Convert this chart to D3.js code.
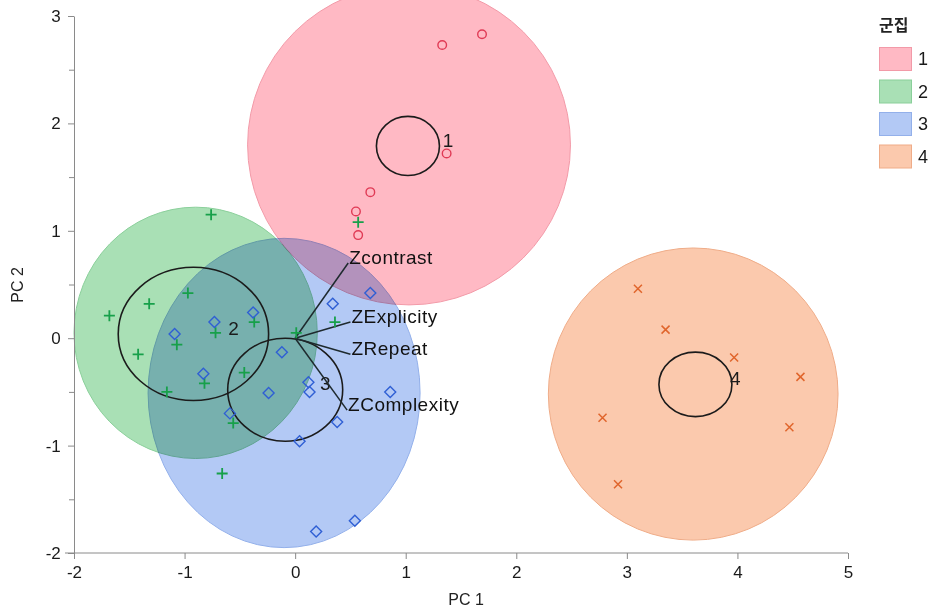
<!DOCTYPE html>
<html lang="ko">
<head>
    <meta charset="UTF-8">
    <title>PCA clusters</title>
    <script src="https://d3js.org/d3.v7.min.js"></script>
    <style>
        body { margin: 0; background: white; }
        svg { display: block; font-family: "Liberation Sans", Arial, sans-serif; }
        .blob { mix-blend-mode: multiply; }
    </style>
</head>
<body>
    <svg></svg>
    <script>
        // Data
        var clusters = ["1", "2", "3", "4"];

        var cluster1Points = [[1.33, 2.73], [1.69, 2.83], [1.37, 1.72], [0.68, 1.36], [0.55, 1.18], [0.57, 0.96]];
        var cluster2Points = [[-0.76, 1.15], [-0.97, 0.42], [-1.32, 0.32], [-1.68, 0.21], [-1.42, -0.15],
            [-1.07, -0.06], [-0.72, 0.05], [-0.37, 0.15], [0.01, 0.05], [0.36, 0.15], [-0.46, -0.32],
            [-0.82, -0.42], [-1.16, -0.50], [-0.56, -0.79], [-0.66, -1.26], [0.57, 1.08]];
        var cluster3Points = [[-0.38, 0.24], [-0.73, 0.15], [-1.09, 0.04], [-0.83, -0.33], [-0.12, -0.13],
            [-0.24, -0.51], [0.12, -0.41], [0.13, -0.50], [-0.59, -0.70], [0.38, -0.78], [0.04, -0.96],
            [0.34, 0.32], [0.68, 0.42], [0.86, -0.50], [0.54, -1.70], [0.19, -1.80]];
        var cluster4Points = [[3.10, 0.46], [3.35, 0.08], [3.97, -0.18], [4.57, -0.36], [2.78, -0.74],
            [4.47, -0.83], [2.92, -1.36]];

        // density ellipses (data units)
        var ellipseCx = [1.03, -0.90, -0.10, 3.60];
        var ellipseCy = [1.80, 0.05, -0.51, -0.52];
        var ellipseRx = [1.46, 1.10, 1.23, 1.31];
        var ellipseRy = [1.49, 1.17, 1.44, 1.36];

        // cluster mean circles (data units)
        var meanCx = [1.02, -0.92, -0.09, 3.62];
        var meanCy = [1.79, 0.04, -0.48, -0.43];
        var meanRx = [0.285, 0.68, 0.52, 0.33];
        var meanRy = [0.275, 0.62, 0.48, 0.30];

        // biplot rays
        var vectorNames = ["Zcontrast", "ZExplicity", "ZRepeat", "ZComplexity"];
        var vectorX = [0.48, 0.50, 0.50, 0.47];
        var vectorY = [0.70, 0.15, -0.15, -0.67];

        var xTicks = [-2, -1, 0, 1, 2, 3, 4, 5];
        var yTicks = [-2, -1, 0, 1, 2, 3];

        var fillColors = ["#ffb9c4", "#a9e0b5", "#b3c9f5", "#fbc9ad"];
        var edgeColors = ["#f29aa8", "#8acf9a", "#93b0ea", "#efac88"];
        var markColors = ["#e03a55", "#17a04a", "#2f5fd4", "#e0652c"];

        var width = 931, height = 608;
        var svg = d3.select("svg").attr("width", width).attr("height", height);
        svg.append("rect").attr("width", width).attr("height", height).attr("fill", "white");

        var x = d3.scaleLinear().domain([-2, 5]).range([74, 848]);
        var y = d3.scaleLinear().domain([-2, 3]).range([553, 16]);

        // filled ellipses
        var blobs = svg.append("g");
        clusters.forEach(function(c, i) {
            blobs.append("ellipse")
                .attr("class", "blob")
                .attr("cx", x(ellipseCx[i]))
                .attr("cy", y(ellipseCy[i]))
                .attr("rx", x(ellipseRx[i]) - x(0))
                .attr("ry", y(0) - y(ellipseRy[i]))
                .attr("fill", fillColors[i])
                .attr("stroke", edgeColors[i])
                .attr("stroke-width", 1);
        });

        // axes
        var axisColor = "#8a8a8a";
        var fmt = d => String(d); // plain hyphen, like the original
        var gx = svg.append("g").attr("transform", "translate(0," + y(-2) + ")")
            .call(d3.axisBottom(x).tickValues(xTicks).tickSize(6).tickSizeOuter(0).tickFormat(fmt));
        var gy = svg.append("g").attr("transform", "translate(" + x(-2) + ",0)")
            .call(d3.axisLeft(y).tickValues(yTicks).tickSize(6).tickSizeOuter(0).tickFormat(fmt));
        svg.append("g").attr("transform", "translate(" + x(-2) + ",0)")
            .call(d3.axisLeft(y).tickValues([-1.5, -0.5, 0.5, 1.5, 2.5]).tickSize(5).tickFormat(""))
            .select(".domain").remove();
        svg.selectAll(".domain, .tick line").attr("stroke", axisColor);
        gx.select(".domain").attr("d", "M" + (x(-2) - 9) + ",0H" + x(5));
        gx.selectAll("text").attr("font-size", 17).attr("fill", "#1a1a1a").attr("dy", "0.95em");
        gy.selectAll("text").attr("font-size", 17).attr("fill", "#1a1a1a").attr("dx", "-0.25em");
        svg.selectAll(".tick text").attr("font-family", "Liberation Sans, Arial, sans-serif");

        svg.append("text").attr("x", 466).attr("y", 605).attr("text-anchor", "middle")
            .attr("font-size", 16).attr("fill", "#222").text("PC 1");
        svg.append("text").attr("transform", "translate(23,285) rotate(-90)").attr("text-anchor", "middle")
            .attr("font-size", 16).attr("fill", "#222").text("PC 2");

        // mean circles and their labels
        clusters.forEach(function(c, i) {
            svg.append("ellipse")
                .attr("cx", x(meanCx[i]))
                .attr("cy", y(meanCy[i]))
                .attr("rx", x(meanRx[i]) - x(0))
                .attr("ry", y(0) - y(meanRy[i]))
                .attr("fill", "none")
                .attr("stroke", "#1b1b1b")
                .attr("stroke-width", 1.6);
            svg.append("text")
                .attr("x", x(meanCx[i]) + 40)
                .attr("y", y(meanCy[i]) - 6)
                .attr("dy", "0.35em")
                .attr("text-anchor", "middle")
                .attr("font-size", 19)
                .attr("fill", "#1b1b1b")
                .text(c);
        });

        // biplot rays
        vectorNames.forEach(function(name, i) {
            svg.append("line")
                .attr("x1", x(0)).attr("y1", y(0))
                .attr("x2", x(vectorX[i])).attr("y2", y(vectorY[i]))
                .attr("stroke", "#1e2a2e")
                .attr("stroke-width", 1.5);
            svg.append("text")
                .attr("x", x(vectorX[i]) + 1)
                .attr("y", y(vectorY[i]) + 1)
                .attr("font-size", 19)
                .attr("letter-spacing", "0.5px")
                .attr("fill", "#111")
                .text(name);
        });

        // point markers
        var g = svg.append("g").attr("fill", "none").attr("stroke-width", 1.4);
        g.selectAll(".c1").data(cluster1Points).enter().append("circle")
            .attr("cx", d => x(d[0])).attr("cy", d => y(d[1])).attr("r", 4.3)
            .attr("stroke", markColors[0]);
        g.selectAll(".c2").data(cluster2Points).enter().append("path")
            .attr("d", d => { var px = x(d[0]), py = y(d[1]); return "M" + (px - 5.5) + "," + py + "H" + (px + 5.5) + "M" + px + "," + (py - 5.5) + "V" + (py + 5.5); })
            .attr("stroke", markColors[1]).attr("stroke-width", 1.8);
        g.selectAll(".c3").data(cluster3Points).enter().append("path")
            .attr("d", d => { var px = x(d[0]), py = y(d[1]); return "M" + px + "," + (py - 5.5) + "L" + (px + 5.5) + "," + py + "L" + px + "," + (py + 5.5) + "L" + (px - 5.5) + "," + py + "Z"; })
            .attr("stroke", markColors[2]);
        g.selectAll(".c4").data(cluster4Points).enter().append("path")
            .attr("d", d => { var px = x(d[0]), py = y(d[1]); return "M" + (px - 4) + "," + (py - 4) + "L" + (px + 4) + "," + (py + 4) + "M" + (px + 4) + "," + (py - 4) + "L" + (px - 4) + "," + (py + 4); })
            .attr("stroke", markColors[3]).attr("stroke-width", 1.5);

        // legend
        var legend = svg.append("g");
        legend.append("text").attr("x", 879).attr("y", 31)
            .attr("font-family", "Noto Sans CJK KR").attr("font-weight", 700)
            .attr("font-size", 16).attr("fill", "#222").text("군집");
        clusters.forEach(function(c, i) {
            legend.append("rect")
                .attr("x", 879.5).attr("y", 47.5 + i * 32.5)
                .attr("width", 32).attr("height", 23)
                .attr("fill", fillColors[i]).attr("stroke", edgeColors[i]);
            legend.append("text")
                .attr("x", 918).attr("y", 59 + i * 32.5).attr("dy", "0.35em")
                .attr("font-size", 18).attr("fill", "#1a1a1a").text(c);
        });
    </script>
</body>
</html>
